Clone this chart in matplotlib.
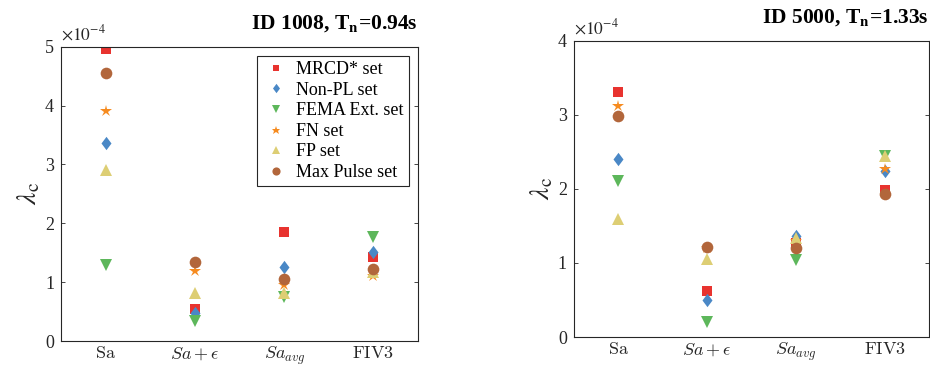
import matplotlib
matplotlib.use('Agg')
import matplotlib.pyplot as plt
import numpy as np

plt.rcParams['font.family'] = ['Liberation Serif', 'DejaVu Serif']
plt.rcParams['mathtext.fontset'] = 'stix'
plt.rcParams['xtick.direction'] = 'in'
plt.rcParams['ytick.direction'] = 'in'

# categories (x tick labels)
categories = [r'$\mathrm{Sa}$', r'$Sa+\epsilon$', r'$Sa_{avg}$', r'$\mathrm{FIV3}$']
set_names = ['MRCD* set', 'Non-PL set', 'FEMA Ext. set', 'FN set', 'FP set', 'Max Pulse set']

# lambda_c values (x1e-4), ID 1008
id1008 = {
    'MRCD* set':     [4.97, 0.54, 1.86, 1.42],
    'Non-PL set':    [3.37, 0.47, 1.26, 1.51],
    'FEMA Ext. set': [1.30, 0.34, 0.74, 1.76],
    'FN set':        [3.91, 1.19, 0.95, 1.11],
    'FP set':        [2.91, 0.81, 0.81, 1.18],
    'Max Pulse set': [4.56, 1.35, 1.06, 1.22],
}
# lambda_c values (x1e-4), ID 5000
id5000 = {
    'MRCD* set':     [3.31, 0.62, 1.27, 1.98],
    'Non-PL set':    [2.40, 0.50, 1.36, 2.24],
    'FEMA Ext. set': [2.11, 0.20, 1.04, 2.45],
    'FN set':        [3.12, 1.20, 1.30, 2.27],
    'FP set':        [1.60, 1.05, 1.34, 2.45],
    'Max Pulse set': [2.99, 1.22, 1.20, 1.93],
}

# MATLAB-like diamond (a bit taller than wide)
diamond = [(0, 1), (0.75, 0), (0, -1), (-0.75, 0), (0, 1)]

styles = {
    'MRCD* set':     dict(marker='s', color='#E8332F', ms=6.9),
    'Non-PL set':    dict(marker=diamond, color='#4A88C6', ms=9.6),
    'FEMA Ext. set': dict(marker='v', color='#5DB75B', ms=9.0),
    'FN set':        dict(marker='*', color='#F68B1F', ms=9.0),
    'FP set':        dict(marker='^', color='#DDCE74', ms=9.2),
    'Max Pulse set': dict(marker='o', color='#B2663B', ms=8.4),
}

fig = plt.figure(figsize=(9.3, 3.72), dpi=100)
ax1 = fig.add_axes([0.0656, 0.0833, 0.384, 0.791])
ax2 = fig.add_axes([0.617, 0.094, 0.382, 0.7965])

x = np.arange(1, len(categories) + 1)


def draw(ax, data, ymax, title):
    for name in set_names:
        st = styles[name]
        ax.plot(x, data[name], linestyle='none', marker=st['marker'], color=st['color'],
                markersize=st['ms'], markeredgewidth=0, label=name)
    ax.set_xlim(0.5, 4.5)
    ax.set_ylim(0, ymax)
    ax.set_xticks(x)
    ax.set_xticklabels(categories, math_fontfamily='cm')
    ax.set_yticks(np.arange(0, ymax + 1))
    ax.tick_params(axis='both', labelsize=13, colors='#262626', length=3, width=0.6,
                   right=True, top=False, bottom=False, pad=5)
    ax.tick_params(axis='x', pad=3)
    for sp in ax.spines.values():
        sp.set_color('#262626')
        sp.set_linewidth(0.8)
    ax.text(0.0, 1.008, r'$\times10^{-4}$', transform=ax.transAxes, fontsize=12.5,
            color='#262626', ha='left', va='bottom')
    ax.set_title(title, loc='right', fontsize=15.5, fontweight='bold', pad=13)
    ax.set_ylabel(r'$\lambda_{\mathrm{c}}$', fontsize=20, color='#262626', labelpad=2)


draw(ax1, id1008, 5, r'ID 1008, T$_{\mathbf{n}}$=0.94s')
draw(ax2, id5000, 4, r'ID 5000, T$_{\mathbf{n}}$=1.33s')

leg = ax1.legend(loc='upper right', fontsize=13, markerscale=0.7, labelspacing=0.2,
                 handletextpad=0.3, handlelength=1.6, borderpad=0.3, borderaxespad=0,
                 fancybox=False, edgecolor='#262626', framealpha=1,
                 bbox_to_anchor=(0.975, 0.97))
leg.get_frame().set_linewidth(0.8)

plt.savefig('out.png', dpi=100)
